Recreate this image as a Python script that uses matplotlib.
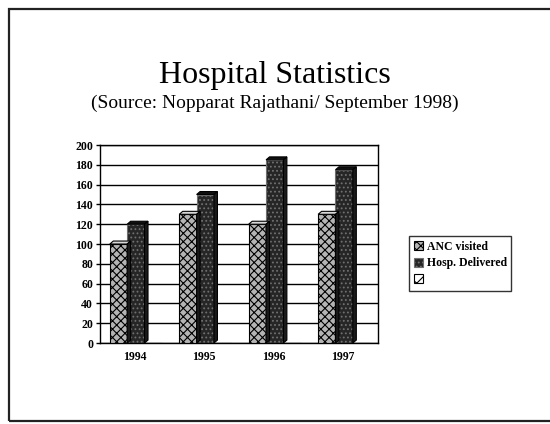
import matplotlib.pyplot as plt
import matplotlib.patches as mpatches
import numpy as np

years = ['1994', '1995', '1996', '1997']
anc_visited = [100, 130, 120, 130]
hosp_delivered = [120, 150, 185, 175]
third_series = [0, 0, 0, 0]
yticks = [0, 20, 40, 60, 80, 100, 120, 140, 160, 180, 200]

plt.rcParams['font.family'] = ['Liberation Serif', 'DejaVu Serif']
plt.rcParams['hatch.linewidth'] = 0.8

fig = plt.figure(figsize=(5.5, 4.24), dpi=100)

# slide frame (right edge runs off the picture)
frame = mpatches.Rectangle((9 / 550, 3 / 424), 560 / 550, 412 / 424, transform=fig.transFigure,
                           fill=False, edgecolor='#222222', linewidth=1.6)
fig.patches.append(frame)

fig.text(0.5, 0.822, 'Hospital Statistics', ha='center', va='center', fontsize=23)
fig.text(0.5, 0.757, '(Source: Nopparat Rajathani/ September 1998)', ha='center', va='center', fontsize=14)

ax = fig.add_axes([0.182, 0.191, 0.505, 0.467])
x = np.arange(len(years))
w = 0.25
b1 = ax.bar(x - 0.235, anc_visited, w, color='#b4b4b4', edgecolor='black', hatch='xxxx', linewidth=0.8,
            label='ANC visited', zorder=3)
b2 = ax.bar(x + 0.015, hosp_delivered, w, color='#262626', edgecolor='#707070', hatch='....', linewidth=0.8,
            label='Hosp. Delivered', zorder=3)
b3 = ax.bar(x + 0.265, third_series, w, color='white', edgecolor='black', hatch='xx', linewidth=0.8,
            label=' ', zorder=3)

# small depth on the bar tops to hint at the 3-D look
for bars, col in ((b1, '#d8d8d8'), (b2, '#101010')):
    for r in bars:
        x0, h, bw = r.get_x(), r.get_height(), r.get_width()
        top = mpatches.Polygon([(x0, h), (x0 + 0.05, h + 3), (x0 + bw + 0.05, h + 3), (x0 + bw, h)],
                               closed=True, facecolor=col, edgecolor='black', linewidth=0.8, zorder=3,
                               clip_on=False)
        side = mpatches.Polygon([(x0 + bw, 0), (x0 + bw + 0.05, 3), (x0 + bw + 0.05, h + 3), (x0 + bw, h)],
                                closed=True, facecolor='#1a1a1a', edgecolor='black', linewidth=0.8, zorder=3,
                                clip_on=False)
        ax.add_patch(top)
        ax.add_patch(side)

ax.set_xlim(-0.5, 3.5)
ax.set_ylim(0, 200)
ax.set_yticks(yticks)
ax.set_xticks(x)
ax.set_xticklabels(years)
ax.grid(axis='y', color='black', linewidth=1.0, zorder=0)
for sp in ax.spines.values():
    sp.set_linewidth(1.0)
ax.tick_params(axis='y', labelsize=8.5, length=3, width=1, pad=2)
ax.tick_params(axis='x', labelsize=8.5, length=0, pad=6)
for t in ax.get_xticklabels() + ax.get_yticklabels():
    t.set_fontweight('bold')

leg = fig.legend(handles=[b1, b2, b3], loc='upper left', bbox_to_anchor=(403 / 550, 1 - 230 / 424),
                 fontsize=8.5, frameon=True, fancybox=False, edgecolor='black',
                 handlelength=0.8, handleheight=0.8, handletextpad=0.3, borderpad=0.4, labelspacing=0.4)
leg.get_frame().set_linewidth(1.0)
for t in leg.get_texts():
    t.set_fontweight('bold')

fig.savefig('out.png', dpi=100)
